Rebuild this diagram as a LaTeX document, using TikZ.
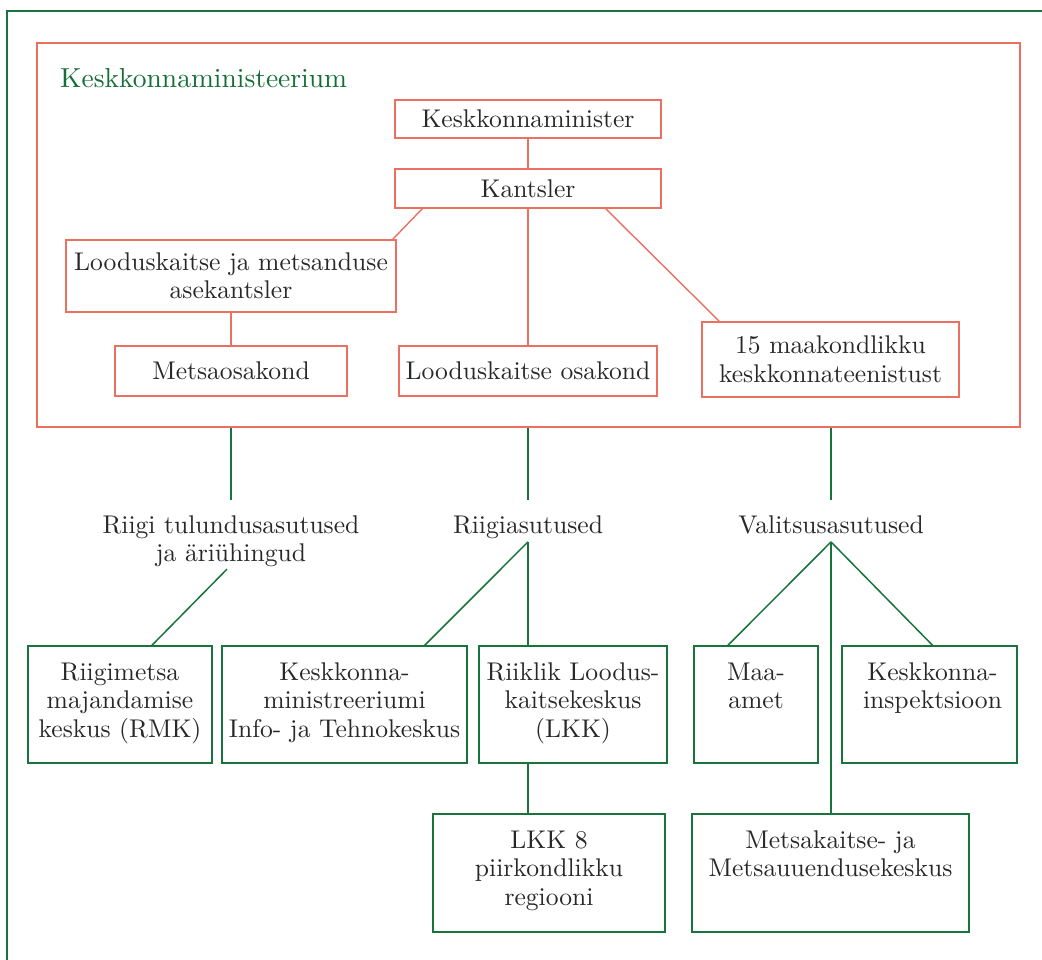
\documentclass[tikz,border=0pt]{standalone}
\usepackage{fontspec}
\newfontfamily\lmten{lmroman10-regular.otf}
\usetikzlibrary{calc}
\definecolor{myred}{RGB}{236,112,98}
\definecolor{mygreen}{RGB}{25,115,60}
\definecolor{titlegreen}{RGB}{20,110,55}
\definecolor{mytext}{RGB}{40,40,40}
\tikzset{
  basefont/.style={font=\lmten\fontsize{25.6}{28.5}\selectfont},
  rbox/.style={draw=myred, line width=1.4pt, inner sep=0pt, align=center, text=mytext, basefont},
  gbox/.style={draw=mygreen, line width=1.5pt, inner sep=0pt},
  gtxt/.style={anchor=north, inner sep=0pt, align=center, text=mytext, basefont},
  rline/.style={draw=myred, line width=1.4pt},
  gline/.style={draw=mygreen, line width=1.5pt},
}
\begin{document}
\begin{tikzpicture}[x=1pt,y=-1pt]
\useasboundingbox (0,0) rectangle (1042,959);
% outer frame
\draw[mygreen, line width=2pt] (6.5,10.5) rectangle (1070,990);
% ministry box
\node[draw=myred, line width=1.4pt, minimum width=983pt, minimum height=384pt, inner sep=0pt] (big) at (528.5,235) {};
\node[anchor=base west, inner sep=0pt, text=titlegreen, font=\lmten\fontsize{27.5}{32}\selectfont] (title) at (60,87) {Keskkonnaministeerium};
% red boxes
\node[rbox, minimum width=266pt, minimum height=38pt] (minister) at (528,119) {Keskkonnaminister};
\node[rbox, minimum width=266pt, minimum height=39pt] (kants) at (528,188.5) {Kantsler};
\node[rbox, minimum width=330pt, minimum height=72pt] (ase) at (231,276) {Looduskaitse ja metsanduse\\asekantsler};
\node[rbox, minimum width=232pt, minimum height=50pt] (metsao) at (231,371) {Metsaosakond};
\node[rbox, minimum width=258pt, minimum height=50pt] (lko) at (528,371) {Looduskaitse osakond};
\node[rbox, minimum width=257pt, minimum height=75pt] (maak) at (830.5,359.5) {15 maakondlikku\\keskkonnateenistust};
% red connectors
\draw[rline] (minister.south) -- (kants.north);
\draw[rline] ([xshift=28pt]kants.south west) -- ([xshift=-4pt]ase.north east);
\draw[rline] (kants.south) -- (kants.south |- lko.north);
\draw[rline] ([xshift=-56pt]kants.south east) -- ([xshift=18pt]maak.north west);
\draw[rline] (ase.south) -- (metsao.north);
% group labels
\node[gtxt] (riigi) at (231,513) {\strut Riigi tulundusasutused\\ja äriühingud};
\node[gtxt] (riigias) at (528,513) {\strut Riigiasutused};
\node[gtxt] (valits) at (831,513) {\strut Valitsusasutused};
\draw[gline] (big.south -| riigi.north) -- ([yshift=13pt]riigi.north);
\draw[gline] (big.south -| riigias.north) -- ([yshift=13pt]riigias.north);
\draw[gline] (big.south -| valits.north) -- ([yshift=13pt]valits.north);
% green boxes
\node[gbox, minimum width=184pt, minimum height=117pt] (rmk) at (120,704.5) {};
\node[gbox, minimum width=245pt, minimum height=117pt] (info) at (344.5,704.5) {};
\node[gbox, minimum width=188pt, minimum height=117pt] (lkk) at (573,704.5) {};
\node[gbox, minimum width=124pt, minimum height=117pt] (maa) at (756,704.5) {};
\node[gbox, minimum width=175pt, minimum height=117pt] (insp) at (929.5,704.5) {};
\node[gbox, minimum width=232pt, minimum height=118pt] (lkk8) at (549,873) {};
\node[gbox, minimum width=277pt, minimum height=118pt] (metsak) at (830.5,873) {};
% green box texts
\node[gtxt] (rmkt) at ([yshift=-15pt]rmk.north) {\strut Riigimetsa\\majandamise\\keskus (RMK)};
\node[gtxt] (infot) at ([yshift=-15pt]info.north) {\strut Keskkonna-\\ministreeriumi\\Info- ja Tehnokeskus};
\node[gtxt] (lkkt) at ([yshift=-15pt]lkk.north) {\strut Riiklik Loodus-\\kaitsekeskus\\(LKK)};
\node[gtxt] (maat) at ([yshift=-15pt]maa.north) {\strut Maa-\\amet};
\node[gtxt] (inspt) at ([xshift=3pt,yshift=-15pt]insp.north) {\strut Keskkonna-\\inspektsioon};
\node[gtxt] (lkk8t) at ([yshift=-15pt]lkk8.north) {\strut LKK 8\\piirkondlikku\\regiooni};
\node[gtxt] (metsakt) at ([yshift=-15pt]metsak.north) {\strut Metsakaitse- ja\\Metsauuendusekeskus};
% green connectors
\draw[gline] ([xshift=-4pt,yshift=-2pt]riigi.south) -- ([xshift=32pt]rmk.north);
\draw[gline] (riigias.south) -- ([xshift=-43pt]info.north east);
\draw[gline] (riigias.south) -- (riigias.south |- lkk.north);
\draw[gline] ([xshift=-45pt]lkk.south) -- ([xshift=-45pt]lkk.south |- lkk8.north);
\draw[gline] (valits.south) -- ([xshift=-28pt]maa.north);
\draw[gline] (valits.south) -- ([xshift=3pt]insp.north);
\draw[gline] (valits.south) -- (valits.south |- metsak.north);
\end{tikzpicture}
\end{document}
